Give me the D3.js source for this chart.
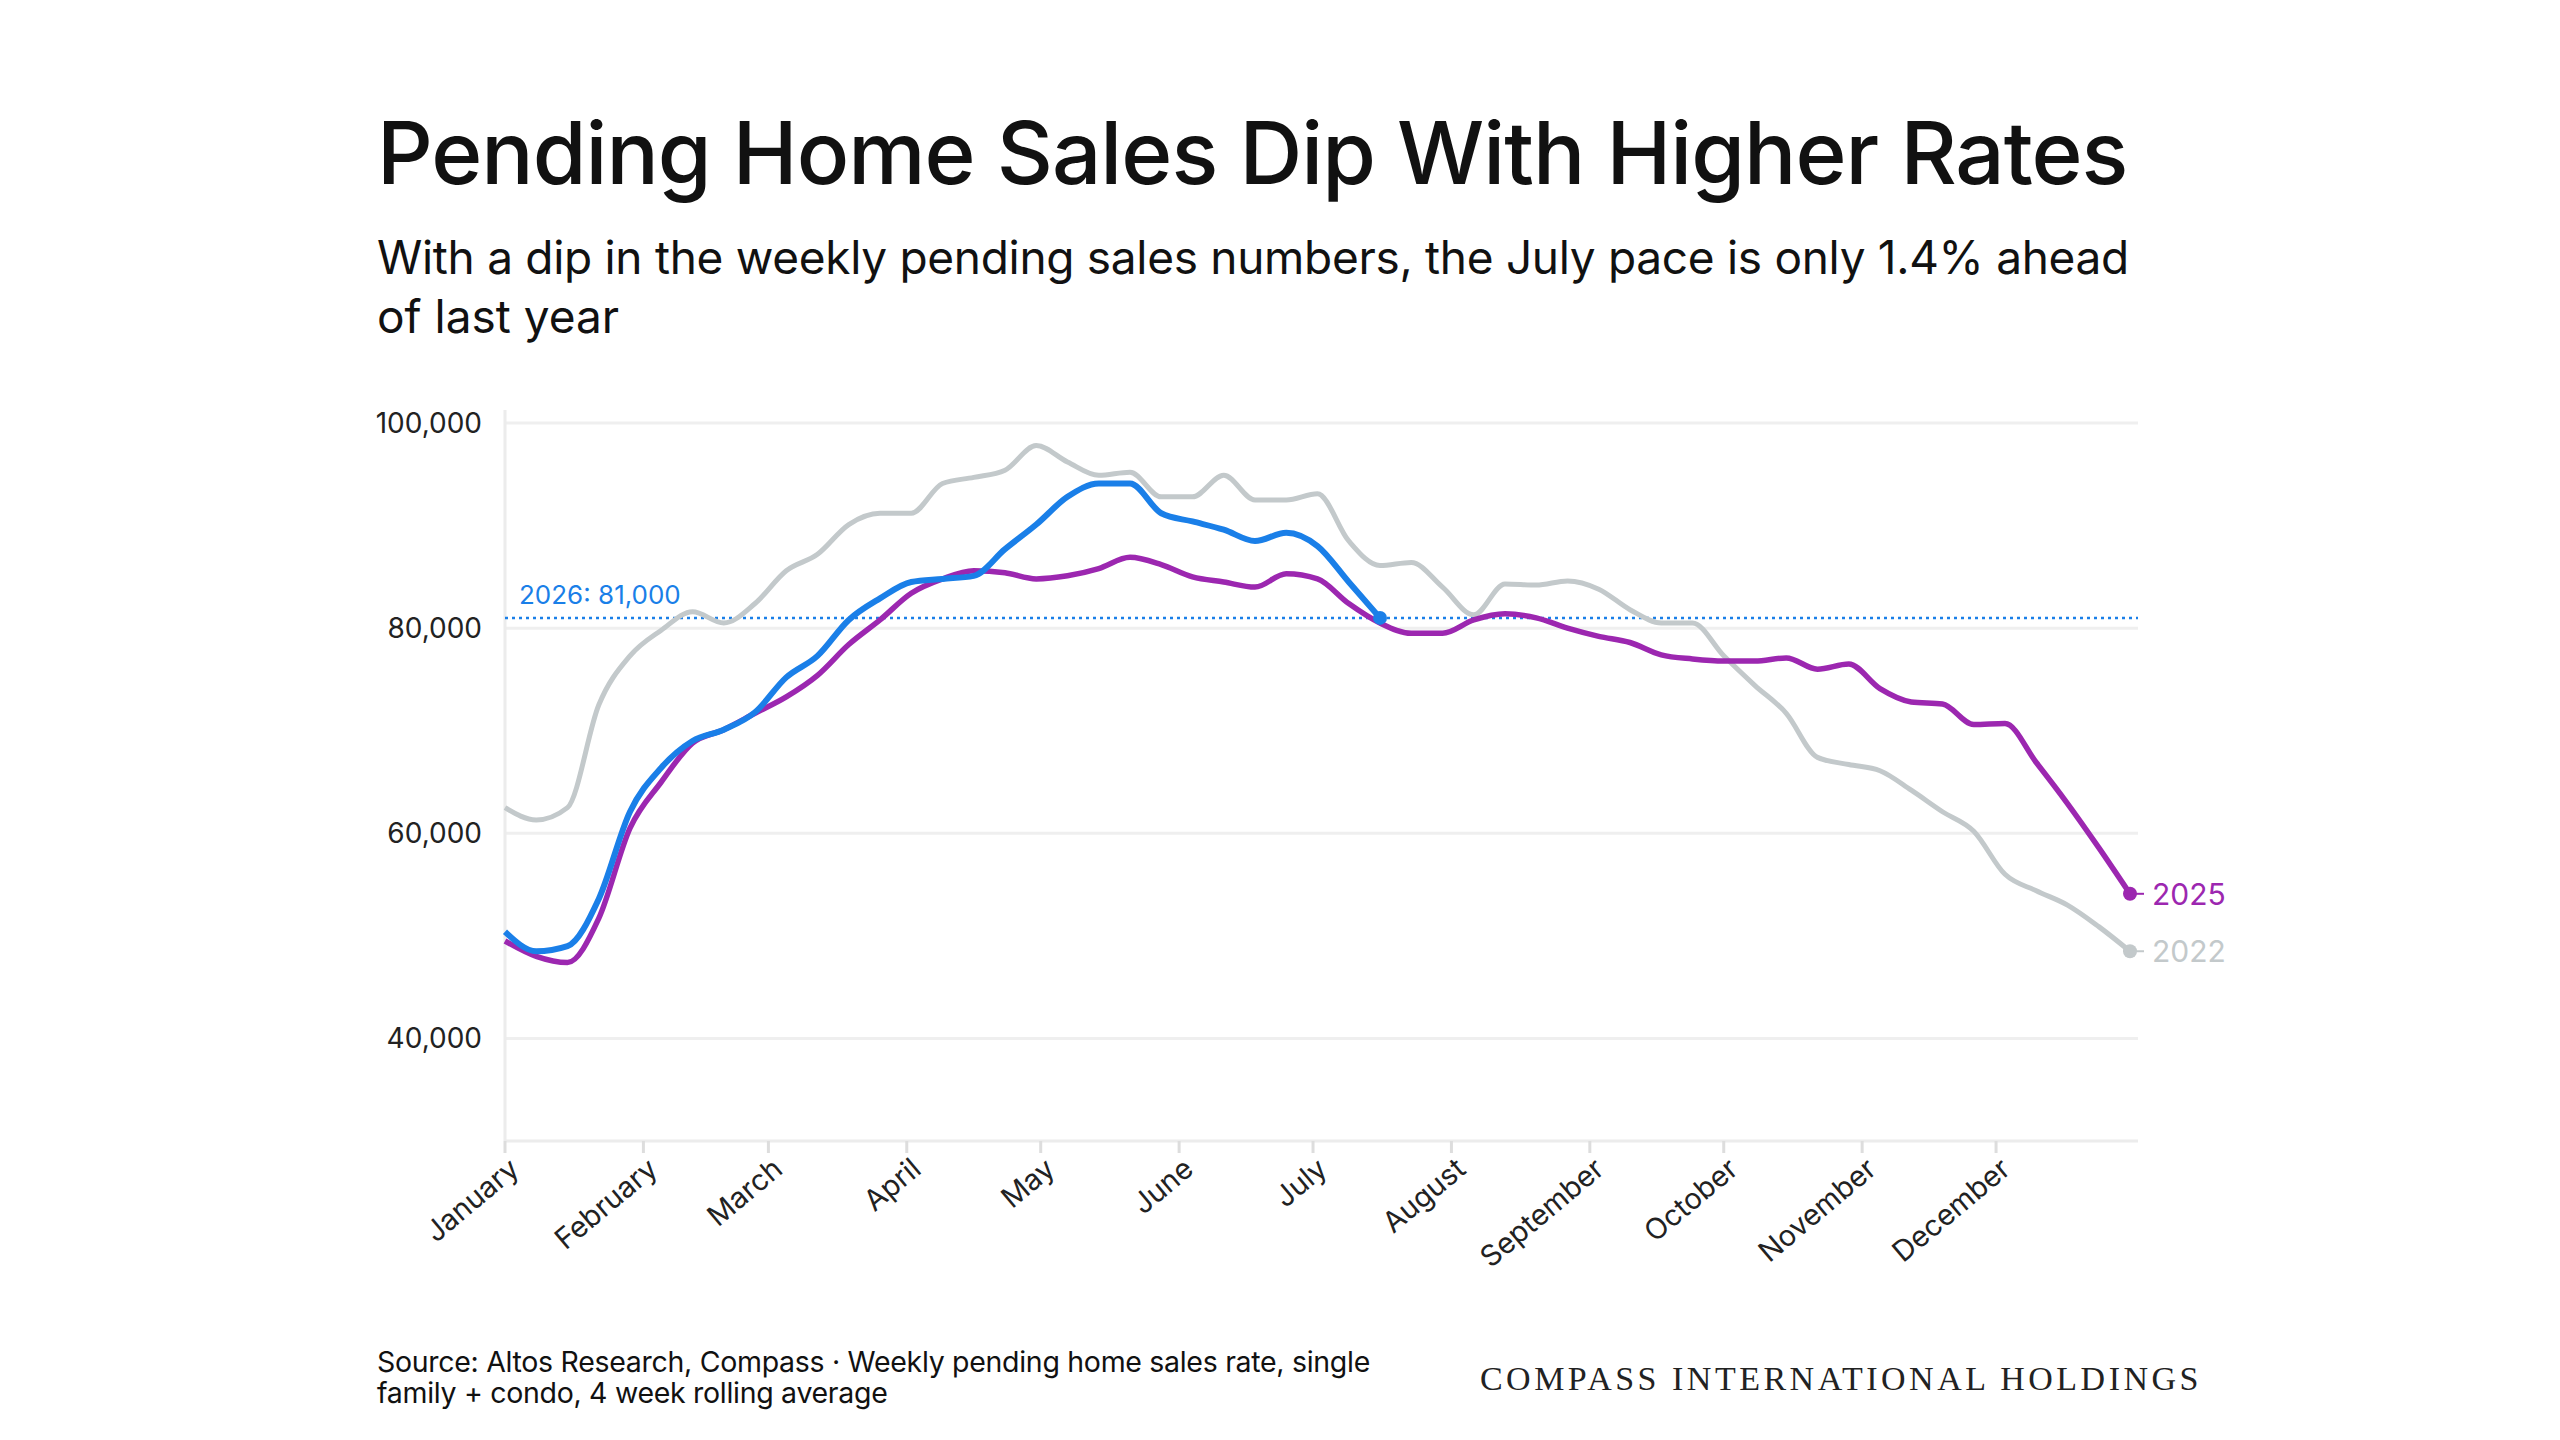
<!DOCTYPE html>
<html>
<head>
<meta charset="utf-8">
<script src="https://cdn.jsdelivr.net/npm/d3@7"></script>
<style>
  body { margin: 0; background: #fff; }
  svg { display: block; font-family: "Inter", "Lato", sans-serif; }
</style>
</head>
<body>
<div id="chart"></div>
<script>
// weekly pending sales, week index 0..52 (day = week * 7)
const sales2022 = [62500, 61300, 62500, 72500, 77300, 79800, 81600, 80500, 82400, 85600,
  87200, 90100, 91200, 91200, 94100, 94700, 95400, 97800, 96200, 94900,
  95200, 92800, 92800, 94900, 92500, 92500, 93100, 88500, 86100, 86400,
  84000, 81300, 84300, 84200, 84600, 83800, 81800, 80500, 80500, 77300,
  74400, 71700, 67400, 66700, 66100, 64200, 62100, 60200, 56000, 54400,
  53000, 50900, 48500]
const sales2025 = [49500, 48000, 47400, 51700, 60500, 65000, 68800, 70100, 71700, 73300,
  75400, 78400, 80800, 83400, 84800, 85600, 85400, 84800, 85100, 85800,
  86900, 86200, 85000, 84500, 84000, 85300, 84800, 82400, 80500, 79500,
  79500, 80800, 81400, 81000, 80000, 79200, 78600, 77400, 77000, 76800,
  76800, 77100, 76000, 76500, 74100, 72800, 72600, 70600, 70700, 66900,
  62900, 58600, 54100]
const sales2026 = [50400, 48500, 49000, 53600, 62100, 66400, 69000, 70100, 71800, 75200,
  77300, 80800, 82900, 84500, 84800, 85100, 87700, 90100, 92800, 94100,
  94100, 91200, 90400, 89600, 88500, 89300, 88000, 84500, 81000]
const months = ["January", "February", "March", "April", "May", "June", "July",
  "August", "September", "October", "November", "December"]
const yTicks = [40000, 60000, 80000, 100000]
const refValue = 81000

const W = 2560, H = 1440
const svg = d3.select("#chart").append("svg").attr("width", W).attr("height", H)

svg.append("text").attr("x", 377).attr("y", 184).attr("font-size", 87).attr("font-weight", 500)
  .attr("fill", "#111").attr("letter-spacing", -1).text("Pending Home Sales Dip With Higher Rates")
svg.append("text").attr("x", 377).attr("y", 274).attr("font-size", 46).attr("fill", "#111")
  .attr("letter-spacing", -0.3)
  .text("With a dip in the weekly pending sales numbers, the July pace is only 1.4% ahead")
svg.append("text").attr("x", 377).attr("y", 333).attr("font-size", 46).attr("fill", "#111")
  .text("of last year")

const x = d3.scaleTime().domain([new Date(2025, 0, 1), new Date(2025, 11, 31)]).range([505, 2130])
const y = d3.scaleLinear().domain([30000, 100000]).range([1141, 423])
const dayOf = i => d3.timeDay.offset(new Date(2025, 0, 1), i * 7)

// grid
svg.append("g").selectAll("line").data(yTicks).join("line")
  .attr("x1", 505).attr("x2", 2138).attr("y1", d => y(d)).attr("y2", d => y(d))
  .attr("stroke", "#efefef").attr("stroke-width", 3)
svg.append("line").attr("x1", 505).attr("x2", 505).attr("y1", 410).attr("y2", 1141)
  .attr("stroke", "#ececec").attr("stroke-width", 3)
svg.append("line").attr("x1", 505).attr("x2", 2138).attr("y1", 1141).attr("y2", 1141)
  .attr("stroke", "#ececec").attr("stroke-width", 3)

svg.append("g").selectAll("text").data(yTicks).join("text")
  .attr("x", 482).attr("y", d => y(d) + 10).attr("text-anchor", "end")
  .attr("font-size", 28).attr("fill", "#222").text(d3.format(","))

// month ticks
const monthDates = months.map((m, i) => new Date(2025, i, 1))
svg.append("g").selectAll("line").data(monthDates).join("line")
  .attr("x1", d => x(d)).attr("x2", d => x(d)).attr("y1", 1141).attr("y2", 1153)
  .attr("stroke", "#ddd").attr("stroke-width", 3)
svg.append("g").selectAll("text").data(monthDates).join("text")
  .attr("transform", d => `translate(${x(d) + 16},${1172}) rotate(-40)`)
  .attr("text-anchor", "end").attr("font-size", 29).attr("fill", "#222")
  .text((d, i) => months[i])

// reference line
svg.append("line").attr("x1", 505).attr("x2", 2138).attr("y1", y(refValue)).attr("y2", y(refValue))
  .attr("stroke", "#1a7fe8").attr("stroke-width", 2.5).attr("stroke-dasharray", "3 4")
svg.append("text").attr("x", 519).attr("y", y(refValue) - 14).attr("font-size", 26)
  .attr("fill", "#1a7fe8").text("2026: 81,000")

const line = d3.line().x((d, i) => x(dayOf(i))).y(d => y(d)).curve(d3.curveMonotoneX)
const series = [
  { vals: sales2022, color: "#c3c9cb", w: 5, label: "2022" },
  { vals: sales2025, color: "#9c27b0", w: 5.5, label: "2025" },
  { vals: sales2026, color: "#1a7fe8", w: 6, label: null }
]
series.forEach(s => {
  svg.append("path").datum(s.vals).attr("d", line).attr("fill", "none")
    .attr("stroke", s.color).attr("stroke-width", s.w).attr("stroke-linejoin", "round")
  const last = s.vals.length - 1
  const lx = x(dayOf(last)), ly = y(s.vals[last])
  svg.append("circle").attr("cx", lx).attr("cy", ly).attr("r", 7).attr("fill", s.color)
  if (s.label) {
    svg.append("line").attr("x1", lx).attr("x2", lx + 14).attr("y1", ly).attr("y2", ly)
      .attr("stroke", s.color).attr("stroke-width", 2)
    svg.append("text").attr("x", lx + 22).attr("y", ly + 11).attr("font-size", 30)
      .attr("fill", s.color).text(s.label)
  }
})

// footer
svg.append("text").attr("x", 377).attr("y", 1372).attr("font-size", 28.5).attr("fill", "#111")
  .attr("letter-spacing", -0.3)
  .text("Source: Altos Research, Compass · Weekly pending home sales rate, single")
svg.append("text").attr("x", 377).attr("y", 1403).attr("font-size", 28.5).attr("fill", "#111")
  .attr("letter-spacing", -0.3)
  .text("family + condo, 4 week rolling average")
svg.append("text").attr("x", 2202).attr("y", 1390).attr("text-anchor", "end")
  .attr("font-family", "Liberation Serif, serif").attr("font-size", 34).attr("letter-spacing", 3.5)
  .attr("fill", "#222").text("COMPASS INTERNATIONAL HOLDINGS")
</script>
</body>
</html>
